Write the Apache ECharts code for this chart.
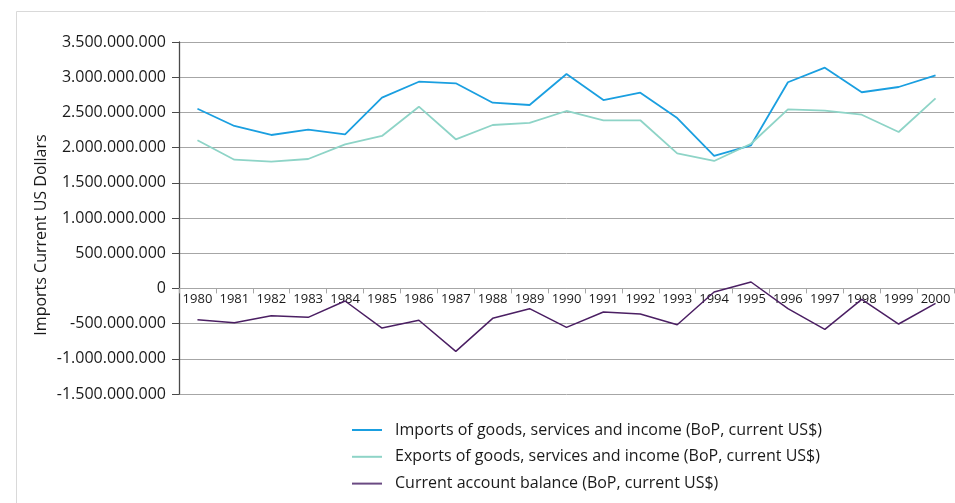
<!DOCTYPE html>
<html>
<head>
<meta charset="utf-8">
<script src="https://cdn.jsdelivr.net/npm/echarts@6/dist/echarts.min.js"></script>
<style>
  html, body { margin: 0; padding: 0; background: #ffffff; }
  #chart { width: 955px; height: 503px; }
</style>
</head>
<body>
<div id="chart"></div>
<script>
// Years on the category axis
const years = ['1980','1981','1982','1983','1984','1985','1986','1987','1988','1989','1990',
               '1991','1992','1993','1994','1995','1996','1997','1998','1999','2000'];

// Balance of payments series, current US$
const imports = [2552e6, 2307e6, 2179e6, 2254e6, 2189e6, 2709e6, 2936e6, 2913e6, 2638e6, 2605e6, 3045e6,
                 2676e6, 2780e6, 2420e6, 1881e6, 2033e6, 2928e6, 3135e6, 2786e6, 2861e6, 3027e6];
const exports = [2104e6, 1828e6, 1800e6, 1838e6, 2047e6, 2165e6, 2581e6, 2118e6, 2321e6, 2350e6, 2520e6,
                 2388e6, 2388e6, 1919e6, 1810e6, 2055e6, 2544e6, 2524e6, 2467e6, 2222e6, 2700e6];
const currentAccount = [-445e6, -487e6, -388e6, -411e6, -179e6, -563e6, -453e6, -894e6, -425e6, -288e6, -553e6,
                        -335e6, -364e6, -516e6, -51e6, 91e6, -288e6, -581e6, -155e6, -506e6, -212e6];

const seriesNames = [
  'Imports of goods, services and income (BoP, current US$)',
  'Exports of goods, services and income (BoP, current US$)',
  'Current account balance (BoP, current US$)'
];

const yTitle = 'Imports Current US Dollars';

// Value axis range
const yMin = -1500000000;
const yMax = 3500000000;
const yStep = 500000000;

// Format numbers with dots as thousands separators
function dotted(v) {
  const neg = v < 0;
  const s = Math.round(Math.abs(v)).toString().replace(/\B(?=(\d{3})+(?!\d))/g, '.');
  return (neg ? '-' : '') + s;
}

const FONT = '"Open Sans", "Noto Sans", sans-serif';
const GRID = { left: 179, right: 1, top: 42, bottom: 109 };
const chartHeight = 503;
const plotHeight = chartHeight - GRID.top - GRID.bottom;
// Lift the category axis from the bottom edge up to the zero line
const zeroLift = -plotHeight * (0 - yMin) / (yMax - yMin);

const chart = echarts.init(document.getElementById('chart'), null, { renderer: 'canvas' });

chart.setOption({
  animation: false,
  backgroundColor: '#ffffff',
  textStyle: { fontFamily: FONT, color: '#1a1a1a' },
  grid: Object.assign({ containLabel: false }, GRID),
  xAxis: {
    type: 'category',
    data: years,
    boundaryGap: true,
    offset: zeroLift,
    axisLine: { show: true, onZero: false, lineStyle: { color: '#a6a6a6', width: 1 } },
    axisTick: { show: true, inside: false, length: 5, alignWithLabel: false, lineStyle: { color: '#a6a6a6' } },
    axisLabel: { interval: 0, margin: 4, fontSize: 13, color: '#1a1a1a', fontFamily: FONT },
    splitLine: { show: false }
  },
  yAxis: {
    type: 'value',
    min: yMin,
    max: yMax,
    interval: yStep,
    axisLine: { show: true, onZero: false, lineStyle: { color: '#4a4a4a', width: 1.3 } },
    axisTick: { show: true, length: 7, lineStyle: { color: '#4a4a4a' } },
    axisLabel: { margin: 13, fontSize: 16, color: '#1a1a1a', fontFamily: FONT, formatter: dotted },
    splitLine: { show: true, lineStyle: { color: '#a6a6a6', width: 1 } }
  },
  legend: {
    orient: 'vertical',
    left: 347,
    top: 417,
    icon: 'rect',
    itemWidth: 30,
    itemHeight: 2,
    itemGap: 10.8,
    textStyle: { fontSize: 16, lineHeight: 16, color: '#1a1a1a', fontFamily: FONT, padding: [0, 0, 0, 8] },
    data: seriesNames
  },
  graphic: [
    {
      type: 'rect',
      silent: true,
      shape: { x: 16.5, y: 11.5, width: 1000, height: 600 },
      style: { fill: 'none', stroke: '#d9d9d9', lineWidth: 1 }
    },
    {
      type: 'text',
      silent: true,
      x: 41,
      y: 235,
      rotation: Math.PI / 2,
      style: {
        text: yTitle,
        fontSize: 16,
        fontFamily: FONT,
        fill: '#1a1a1a',
        align: 'center',
        verticalAlign: 'middle'
      }
    }
  ],
  series: [
    {
      name: seriesNames[0], type: 'line', data: imports, symbol: 'none',
      lineStyle: { color: '#1a9fe0', width: 1.8 }, itemStyle: { color: '#1a9fe0' }
    },
    {
      name: seriesNames[1], type: 'line', data: exports, symbol: 'none',
      lineStyle: { color: '#8ed4c7', width: 1.8 }, itemStyle: { color: '#8ed4c7' }
    },
    {
      name: seriesNames[2], type: 'line', data: currentAccount, symbol: 'none',
      lineStyle: { color: '#4b1f63', width: 1.5 }, itemStyle: { color: '#6a4a82' }
    }
  ]
});
</script>
</body>
</html>
